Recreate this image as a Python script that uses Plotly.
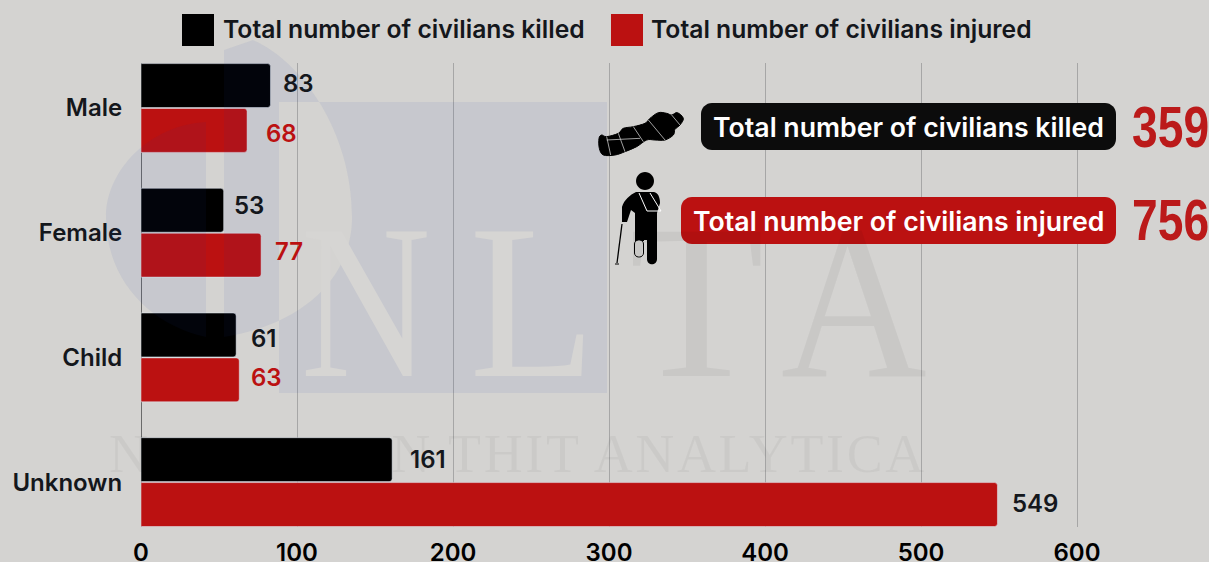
import json
import plotly.graph_objects as go

categories = ["Male", "Female", "Child", "Unknown"]
killed = [83, 53, 61, 161]
injured = [68, 77, 63, 549]
x_ticks = [0, 100, 200, 300, 400, 500, 600]
name_killed = "Total number of civilians killed"
name_injured = "Total number of civilians injured"
total_killed = 359
total_injured = 756

W, H = 1209, 562
L, R, T, B = 141, 1209, 63, 527
BG = "#d4d3d1"
RED = "#bb1111"
INK = "#14171c"
FONT = "Inter"
STEP = 124.7

def px(x):
    return (x - L) / (R - L)

def py(y):
    return 1 - (y - T) / (B - T)

def path(cmds):
    out = []
    for c in cmds:
        if isinstance(c, str):
            out.append(c)
        else:
            out.append(f"{px(c[0]):.5f},{py(c[1]):.5f}")
    return " ".join(out)

def rrect(x0, y0, x1, y1, r):
    k = r * 0.45
    return path(["M", (x0 + r, y0), "L", (x1 - r, y0), "C", (x1 - k, y0), (x1, y0 + k), (x1, y0 + r),
                 "L", (x1, y1 - r), "C", (x1, y1 - k), (x1 - k, y1), (x1 - r, y1),
                 "L", (x0 + r, y1), "C", (x0 + k, y1), (x0, y1 - k), (x0, y1 - r),
                 "L", (x0, y0 + r), "C", (x0, y0 + k), (x0 + k, y0), (x0 + r, y0), "Z"])

def smooth(points):
    n = len(points)
    cmds = ["M", points[0]]
    for i in range(n):
        p0, p1, p2, p3 = points[i - 1], points[i], points[(i + 1) % n], points[(i + 2) % n]
        c1 = (p1[0] + (p2[0] - p0[0]) / 6, p1[1] + (p2[1] - p0[1]) / 6)
        c2 = (p2[0] - (p3[0] - p1[0]) / 6, p2[1] - (p3[1] - p1[1]) / 6)
        cmds += ["C", c1, c2, p2]
    cmds.append("Z")
    return path(cmds)

def shape(p, fill, line=None, width=0, layer="above"):
    return dict(type="path", xref="paper", yref="paper", path=p, fillcolor=fill, layer=layer,
                line=dict(color=line or "rgba(0,0,0,0)", width=width))

def text(x, y, s, size, color, anchor="left", weight=600, family=FONT):
    return dict(xref="paper", yref="paper", x=px(x), y=py(y), text=s, showarrow=False, xanchor=anchor,
                yanchor="middle", font=dict(size=size, color=color, family=family, weight=weight))

fig = go.Figure()
fig.add_bar(y=categories, x=killed, name=name_killed, orientation="h",
            marker=dict(color="#000000", cornerradius=3))
fig.add_bar(y=categories, x=injured, name=name_injured, orientation="h",
            marker=dict(color="#bb1111", cornerradius=3))

shapes = []
annos = []

# watermark, sitting over the bars with a very light tint
tint = "rgba(30,60,160,0.065)"
wm = path(["M", (206, 122), "C", (150, 125), (106, 170), (106, 217), "C", (106, 280), (150, 325), (206, 337), "Z",
           "M", (224, 50), "L", (253, 40), "C", (300, 60), (352, 130), (352, 217), "C", (352, 280), (300, 325), (224, 337), "Z",
           "M", (279, 102), "L", (607, 102), "L", (607, 393), "L", (279, 393), "Z"])
shapes.append(shape(wm, tint))

serif = "Liberation Serif"
for x, s, c in [(366, "N", "#d6d5d3"), (532, "L", "#d6d5d3"),
                (696, "T", "rgba(0,0,0,0.05)"), (854, "A", "rgba(0,0,0,0.05)")]:
    annos.append(text(x, 301, s, 221, c, "center", 400, serif))
annos.append(text(107, 454, "N", 54, "rgba(0,0,0,0.04)", "left", 400, serif))
annos.append(text(658, 454, "N THIT ANALYTICA", 54, "rgba(0,0,0,0.04)", "center", 400, serif))

# legend
shapes.append(shape(path(["M", (182, 14), "L", (214, 14), "L", (214, 46), "L", (182, 46), "Z"]), "#000000"))
shapes.append(shape(path(["M", (611, 14), "L", (643, 14), "L", (643, 46), "L", (611, 46), "Z"]), RED))
annos.append(text(221, 29, name_killed, 24.7, INK))
annos.append(text(649, 29, name_injured, 24.7, INK))

# value labels
label_dx_killed = [11, 8, 13, 16]
label_dy_killed = [25, 27, 19, 23]
label_dx_injured = [17, 12, 10, 13]
label_dy_injured = [-25, -19, -20, -21]
for cat, v, dx, dy in zip(categories, killed, label_dx_killed, label_dy_killed):
    annos.append(dict(x=v, y=cat, xref="x", yref="y", text=str(v), showarrow=False, xanchor="left", xshift=dx,
                      yshift=dy, font=dict(size=24, color=INK, family=FONT, weight=600)))
for cat, v, dx, dy in zip(categories, injured, label_dx_injured, label_dy_injured):
    col = RED if cat != "Unknown" else INK
    annos.append(dict(x=v, y=cat, xref="x", yref="y", text=str(v), showarrow=False, xanchor="left", xshift=dx,
                      yshift=dy, font=dict(size=24, color=col, family=FONT, weight=600)))

# summary pills
shapes.append(shape(rrect(701, 103, 1116, 150, 11), "#0c0c0c"))
shapes.append(shape(rrect(681, 197, 1116, 244, 11), RED))
annos.append(text(1106, 127, name_killed, 26.7, "#ffffff", "right"))
annos.append(text(1106, 221, name_injured, 26.7, "#ffffff", "right"))
num = "Liberation Sans"
annos.append(text(1170.5, 127, str(total_killed), 57, "#bb1a1a", "center", 700, num))
annos.append(text(1170.5, 220, str(total_injured), 57, "#bb1a1a", "center", 700, num))

# wrapped-body icon
pts = [(27, 145), (35, 135), (50, 140), (85, 130), (100, 115), (130, 110), (165, 100), (180, 85), (205, 68),
       (230, 70), (245, 75), (262, 68), (280, 85), (270, 105), (255, 118), (250, 135), (225, 150), (195, 150),
       (170, 150), (140, 170), (105, 185), (75, 195), (40, 195), (28, 175)]
zx = lambda p: (p[0] / 3 + 590, p[1] / 3 + 90)
shapes.append(shape(smooth([zx(p) for p in pts]), "#000000", "#000000", 1))
for a, b in [((50, 140), (62, 195)), ((85, 130), (105, 185)), ((130, 110), (160, 155)),
             ((175, 90), (225, 150)), ((50, 150), (150, 145)), ((245, 75), (270, 105))]:
    shapes.append(shape(path(["M", zx(a), "L", zx(b)]), "rgba(0,0,0,0)", "#c8c8c8", 0.8))

# injured-person icon
hx, hy, hr = 645, 181, 9
shapes.append(shape(rrect(hx - hr, hy - hr, hx + hr, hy + hr, hr), "#000000"))
body = path(["M", (636, 192), "L", (654, 192), "C", (658, 193), (660, 197), (660, 203), "L", (657, 213), "L", (657, 259),
             "C", (657, 266), (647, 266), (647, 259), "L", (647, 240), "L", (644, 240), "L", (644, 241), "L", (635, 241),
             "L", (635, 213), "L", (631, 210), "L", (627, 222), "L", (622, 222), "L", (622, 207), "C", (624, 200), (630, 195), (636, 192), "Z"])
shapes.append(shape(body, "#000000"))
shapes.append(shape(path(["M", (639, 193), "L", (647, 211), "L", (661, 211), "L", (650, 193)]), "rgba(0,0,0,0)", "#ffffff", 1))
shapes.append(shape(rrect(634.5, 240, 643.5, 257, 4), BG, "#000000", 1))
shapes.append(shape(path(["M", (622, 224), "L", (617, 263)]), "rgba(0,0,0,0)", "#000000", 1.3))
shapes.append(shape(path(["M", (615, 264), "L", (619, 264)]), "rgba(0,0,0,0)", "#000000", 1))

fig.update_layout(
    width=W, height=H, autosize=False,
    margin=dict(l=L, r=W - R, t=T, b=H - B, pad=0),
    paper_bgcolor=BG, plot_bgcolor=BG,
    barmode="group", bargap=0.28, bargroupgap=0.022,
    showlegend=False,
    font=dict(family=FONT, size=24, color="#000000", weight=600),
    shapes=shapes, annotations=annos,
    xaxis=dict(range=[0, (R - L) / 1.56], tickvals=x_ticks, showgrid=True, gridcolor="#a6a6a6", gridwidth=1,
               zeroline=True, zerolinecolor="#6a6a6a", zerolinewidth=1, showline=False, automargin=False,
               ticks="outside", ticklen=4, tickcolor="rgba(0,0,0,0)", tickfont=dict(size=24, color="#000000")),
    yaxis=dict(type="category", categoryorder="array", categoryarray=categories, automargin=False,
               range=[(B - 108) / STEP, (T - 108) / STEP], showgrid=False, zeroline=False, showline=False,
               ticks="outside", ticklen=13, tickcolor="rgba(0,0,0,0)", tickfont=dict(size=24, color=INK)),
)

# page has a default body margin; the condensed glyph widths have no installed font, so fit them in the SVG
fit = {str(total_killed): [77, "spacingAndGlyphs"], str(total_injured): [77, "spacingAndGlyphs"],
       "L": [126, "spacingAndGlyphs"], "A": [146, "spacingAndGlyphs"],
       "N THIT ANALYTICA": [533, "spacing"]}
post = """
document.body.style.margin = '0';
document.body.style.overflow = 'hidden';
document.body.style.background = '%s';
var fit = %s;
document.querySelectorAll('.annotation-text').forEach(function (t) {
  var s = t.textContent, f = fit[s];
  if (s === 'N') { var big = parseFloat(t.style.fontSize) > 100; f = big ? [130, 'spacingAndGlyphs'] : null; }
  if (f) { t.setAttribute('textLength', f[0]); t.setAttribute('lengthAdjust', f[1]); }
});
""" % (BG, json.dumps(fit))

fig.write_html("out.html", post_script=post, config={"displayModeBar": False})
